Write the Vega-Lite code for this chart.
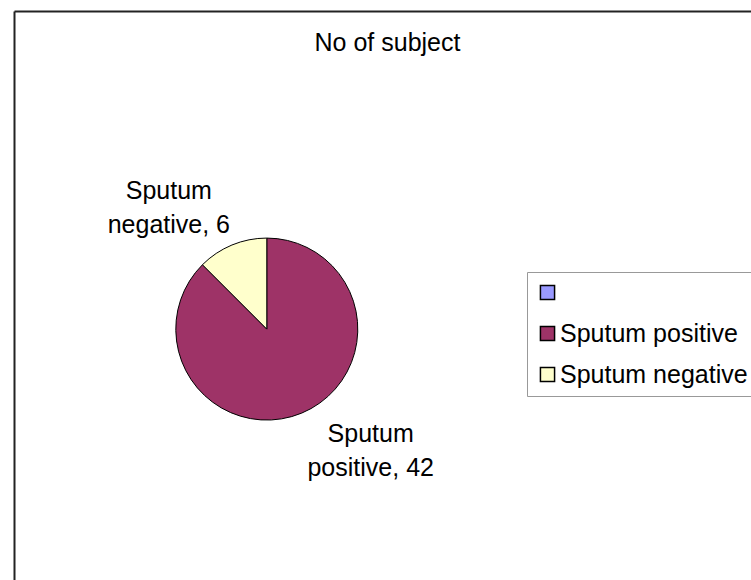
{
  "$schema": "https://vega.github.io/schema/vega-lite/v6.json",
  "width": 751,
  "height": 580,
  "autosize": {"type": "fit", "contains": "padding"},
  "padding": {"left": 14, "top": 11, "right": 0, "bottom": 0},
  "background": "white",
  "title": {
    "text": "No of subject",
    "fontSize": 25,
    "font": "Liberation Sans",
    "fontWeight": "normal",
    "color": "black",
    "offset": -65,
    "baseline": "alphabetic",
    "dx": 5,
    "anchor": "middle"
  },
  "data": {
    "values": [
      {"category": "Sputum positive", "count": 42},
      {"category": "Sputum negative", "count": 6}
    ]
  },
  "encoding": {
    "x": {
      "datum": 0.343,
      "type": "quantitative",
      "scale": {"domain": [0, 1], "nice": false, "zero": false},
      "axis": {"orient": "top", "title": null, "ticks": false, "labels": false, "grid": false, "domainColor": "#222", "domainWidth": 2}
    },
    "y": {
      "datum": 0.559,
      "type": "quantitative",
      "scale": {"domain": [0, 1], "nice": false, "zero": false, "reverse": true},
      "axis": {"orient": "left", "title": null, "ticks": false, "labels": false, "grid": false, "domainColor": "#222", "domainWidth": 2}
    },
    "order": {"field": "count", "sort": "descending"}
  },
  "layer": [
    {
      "mark": {"type": "arc", "radius": 91, "stroke": "black", "strokeWidth": 1},
      "encoding": {
        "theta": {"field": "count", "type": "quantitative", "stack": true},
        "color": {
          "field": "category",
          "type": "nominal",
          "scale": {"domain": ["", "Sputum positive", "Sputum negative"], "range": ["#9999FF", "#9E3367", "#FFFFCC"]},
          "legend": {
            "orient": "none",
            "legendX": 513,
            "legendY": 261,
            "title": null,
            "symbolType": "square",
            "symbolSize": 200,
            "symbolStrokeColor": "black",
            "symbolStrokeWidth": 1.5,
            "labelFontSize": 25,
            "labelFont": "Liberation Sans",
            "labelColor": "black",
            "labelLimit": 400,
            "labelOffset": 0,
            "rowPadding": 15,
            "padding": 8,
            "strokeColor": "#999",
            "fillColor": "white"
          }
        }
      }
    },
    {
      "transform": [
        {"calculate": "replace(datum.category, ' ', '\\n') + ', ' + datum.count", "as": "label"}
      ],
      "mark": {"type": "text", "radius": 158, "fontSize": 25, "font": "Liberation Sans", "lineBreak": "\n", "lineHeight": 34, "fill": "black", "align": "center", "baseline": "middle", "dy": -17, "dx": 3},
      "encoding": {
        "theta": {"field": "count", "type": "quantitative", "stack": true, "scale": {"range": [-0.3, 5.983]}},
        "text": {"field": "label", "type": "nominal"}
      }
    }
  ],
  "resolve": {"scale": {"theta": "independent"}},
  "config": {"view": {"stroke": null}}
}
